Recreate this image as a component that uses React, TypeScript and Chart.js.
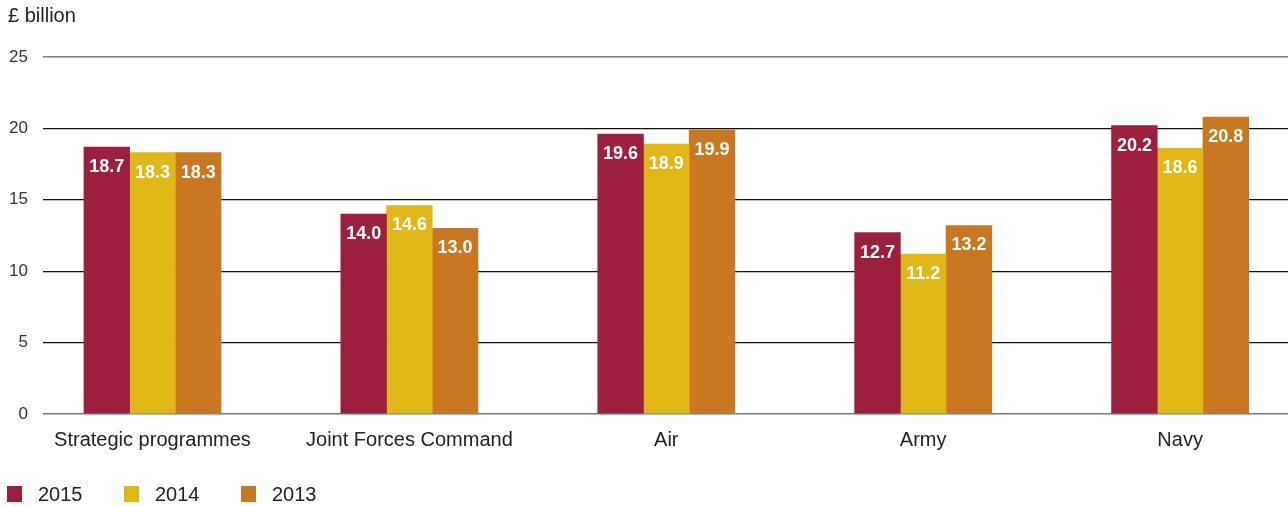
import React, { useEffect, useRef } from "react";
import { Chart, registerables } from "chart.js";

Chart.register(...registerables);

const categories = ["Strategic programmes", "Joint Forces Command", "Air", "Army", "Navy"];
const seriesNames = ["2015", "2014", "2013"];
const values2015 = [18.7, 14.0, 19.6, 12.7, 20.2];
const values2014 = [18.3, 14.6, 18.9, 11.2, 18.6];
const values2013 = [18.3, 13.0, 19.9, 13.2, 20.8];
const seriesColors = ["#9C1F3F", "#DFB815", "#C97720"];
const yTicks = [0, 5, 10, 15, 20, 25];

const FONT = "'Liberation Sans', Arial, Helvetica, sans-serif";

const valueLabels = {
  id: "valueLabels",
  afterDatasetsDraw(chart: any) {
    const ctx = chart.ctx;
    ctx.save();
    ctx.fillStyle = "#ffffff";
    ctx.font = `bold 18px ${FONT}`;
    ctx.textAlign = "center";
    ctx.textBaseline = "middle";
    chart.data.datasets.forEach((ds: any, di: number) => {
      const meta = chart.getDatasetMeta(di);
      meta.data.forEach((el: any, i: number) => {
        const v = ds.data[i].y;
        ctx.fillText(v.toFixed(1), el.x, el.y + 20);
      });
    });
    ctx.restore();
  },
};

const customLegend = {
  id: "customLegend",
  afterDraw(chart: any) {
    const ctx = chart.ctx;
    ctx.save();
    ctx.font = `20px ${FONT}`;
    ctx.textBaseline = "middle";
    ctx.textAlign = "left";
    let x = 7;
    const boxTop = 486;
    const boxSize = 16;
    chart.data.datasets.forEach((ds: any) => {
      ctx.fillStyle = ds.backgroundColor;
      ctx.fillRect(x, boxTop, boxSize - 1, boxSize);
      ctx.fillStyle = "#222222";
      const tx = x + 31;
      ctx.fillText(ds.label, tx, boxTop + 9);
      x = tx + ctx.measureText(ds.label).width + 41.5;
    });
    ctx.restore();
  },
};

export default function App() {
  const canvasRef = useRef<HTMLCanvasElement | null>(null);

  useEffect(() => {
    document.body.style.margin = "0";
    const canvas = canvasRef.current;
    if (!canvas) return;
    const allValues = [values2015, values2014, values2013];
    const chart = new Chart(canvas, {
      type: "bar",
      data: {
        datasets: seriesNames.map((name, si) => ({
          label: name,
          data: allValues[si].map((v, i) => ({ x: i, y: v })),
          backgroundColor: seriesColors[si],
          borderWidth: 0,
          barThickness: 45.7,
        })),
      },
      options: {
        responsive: false,
        animation: false,
        devicePixelRatio: 1,
        layout: { padding: { left: 8, right: 0, top: 4, bottom: 48 } },
        plugins: {
          legend: { display: false },
          tooltip: { enabled: false },
          title: {
            display: true,
            text: "£ billion",
            align: "start",
            color: "#222222",
            font: { family: FONT, size: 20, weight: "normal" },
            padding: { top: 0, bottom: 29 },
          },
        },
        scales: {
          x: {
            type: "linear",
            offset: false,
            min: -0.4262,
            max: 4.42,
            grid: { display: false },
            border: { display: false },
            afterBuildTicks(scale: any) {
              scale.ticks = categories.map((_, i) => ({ value: i }));
            },
            ticks: {
              autoSkip: false,
              maxRotation: 0,
              padding: 6,
              color: "#222222",
              font: { family: FONT, size: 20 },
              callback: (value: any) => categories[value as number],
            },
          },
          y: {
            min: 0,
            max: 25,
            afterBuildTicks(scale: any) {
              scale.ticks = yTicks.map((v) => ({ value: v }));
            },
            afterFit(scale: any) {
              scale.width = 35;
            },
            border: { display: false },
            grid: {
              drawTicks: false,
              color: (ctx: any) =>
                ctx.tick && (ctx.tick.value === 0 || ctx.tick.value === 25) ? "#7a7a7a" : "#111111",
              lineWidth: (ctx: any) =>
                ctx.tick && (ctx.tick.value === 0 || ctx.tick.value === 25) ? 1.6 : 1.2,
            },
            ticks: {
              padding: 15,
              color: "#333333",
              font: { family: FONT, size: 17 },
            },
          },
        },
      },
      plugins: [valueLabels, customLegend],
    });
    return () => chart.destroy();
  }, []);

  return (
    <div style={{ width: 1288, height: 506 }}>
      <canvas ref={canvasRef} width={1288} height={506} />
    </div>
  );
}
